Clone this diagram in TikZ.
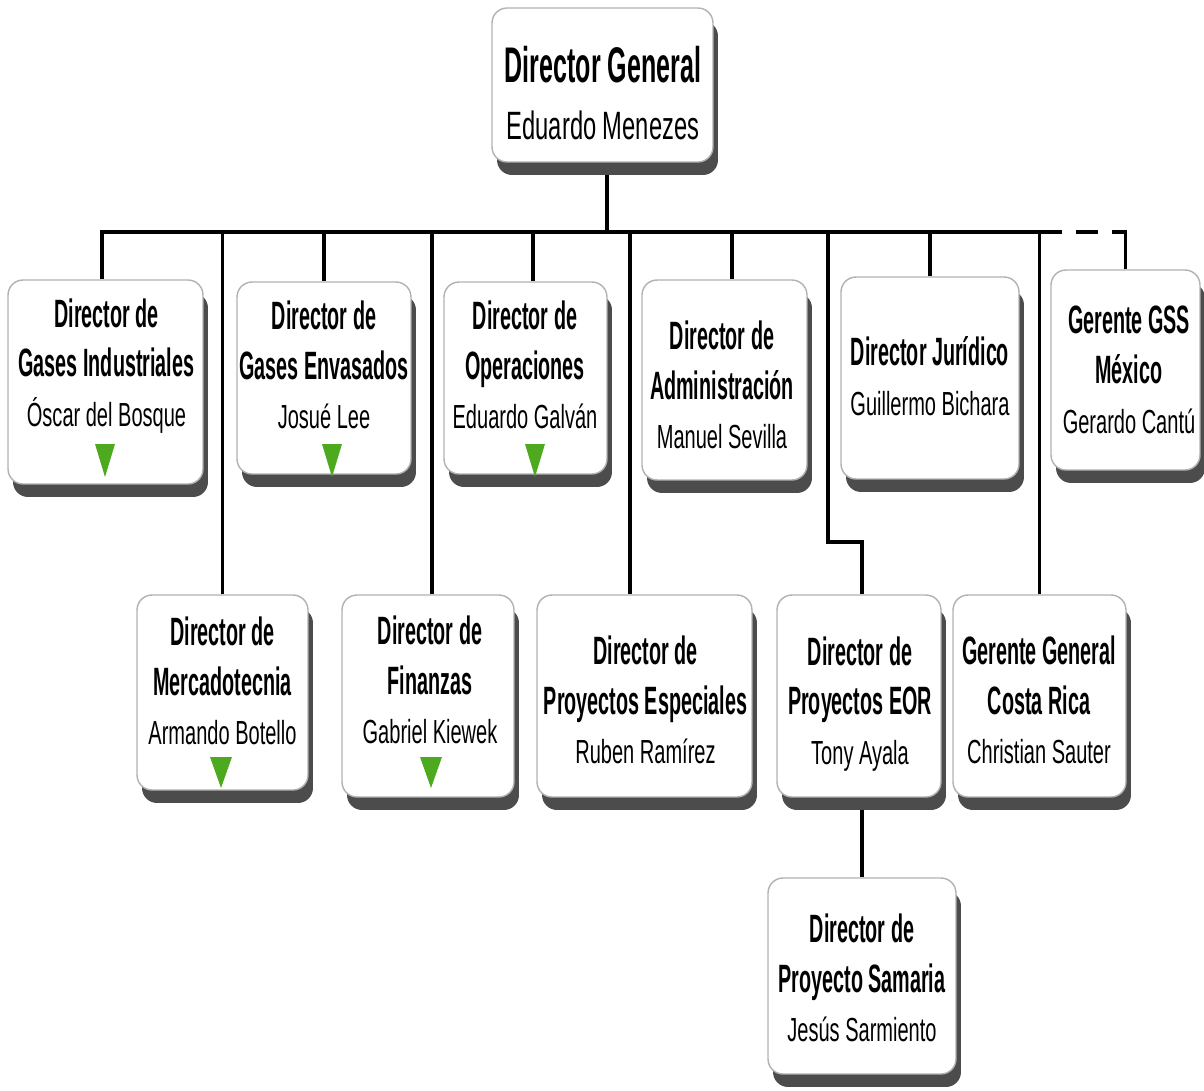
\documentclass[tikz,border=0pt]{standalone}
\usepackage{fontspec}
\setmainfont[FakeStretch=0.6]{Liberation Sans}
\newfontfamily\condbold[FakeStretch=0.5]{Liberation Sans}
\usetikzlibrary{shadows}
\pgfdeclarelayer{bg}
\pgfsetlayers{bg,main}
\definecolor{trigreen}{RGB}{77,170,30}
\newcommand\ttlb[1]{{\condbold\bfseries\fontsize{22.5}{28.3}\selectfont #1}}
\newcommand\topttl[1]{{\condbold\bfseries\fontsize{28.5}{32.9}\selectfont #1}}
\begin{document}
\begin{tikzpicture}[x=0.02cm,y=-0.02cm,
  box/.style={draw=gray!60, line width=0.8pt, fill=white, rounded corners=0.3cm, inner sep=0pt,
    drop shadow={shadow xshift=0.1cm, shadow yshift=-0.26cm, fill=black!70, opacity=1}},
  lbl/.style={align=center, inner sep=0pt, font=\fontsize{19}{28.3}\selectfont},
  conn/.style={line width=2pt, black},
  tri/.style={fill=trigreen}]
\useasboundingbox (0,0) rectangle (1204,1091);

% boxes
\node[box, minimum width=4.42cm, minimum height=3.08cm] (top) at (602.5,85) {};
\node[box, minimum width=3.9cm,  minimum height=4.08cm] (GI)  at (105.5,382) {};
\node[box, minimum width=3.48cm, minimum height=3.84cm] (GE)  at (324,378) {};
\node[box, minimum width=3.26cm, minimum height=3.84cm] (OP)  at (525.5,378) {};
\node[box, minimum width=3.3cm,  minimum height=4.0cm]  (AD)  at (724.5,380) {};
\node[box, minimum width=3.56cm, minimum height=4.04cm] (JU)  at (930,378) {};
\node[box, minimum width=2.98cm, minimum height=4.0cm]  (GSS) at (1125.5,370) {};
\node[box, minimum width=3.42cm, minimum height=3.9cm]  (MK)  at (222.5,692.5) {};
\node[box, minimum width=3.44cm, minimum height=4.04cm] (FI)  at (428,696) {};
\node[box, minimum width=4.3cm,  minimum height=4.04cm] (PE)  at (644.5,696) {};
\node[box, minimum width=3.28cm, minimum height=4.04cm] (EOR) at (859,696) {};
\node[box, minimum width=3.46cm, minimum height=4.04cm] (CR)  at (1039.5,696) {};
\node[box, minimum width=3.76cm, minimum height=3.92cm] (SA)  at (862,976) {};

% texts
\node[lbl, font=\fontsize{22.5}{32.9}\selectfont] (topt) at (603,93) {\topttl{Director General}\\ Eduardo Menezes};
\node[lbl] (GIt)  at (106.5,366) {\ttlb{Director de}\\ \ttlb{Gases Industriales}\\ Óscar del Bosque};
\node[lbl] (GEt)  at (324,365) {\ttlb{Director de}\\ \ttlb{Gases Envasados}\\ Josué Lee};
\node[lbl] (OPt)  at (525,365) {\ttlb{Director de}\\ \ttlb{Operaciones}\\ Eduardo Galván};
\node[lbl] (ADt)  at (722,385) {\ttlb{Director de}\\ \ttlb{Administración}\\ Manuel Sevilla};
\node[lbl] (JUt)  at (930,376) {\ttlb{Director Jurídico}\\ Guillermo Bichara};
\node[lbl] (GSSt) at (1129,370) {\ttlb{Gerente GSS}\\ \ttlb{México}\\ Gerardo Cantú};
\node[lbl] (MKt)  at (222.5,681) {\ttlb{Director de}\\ \ttlb{Mercadotecnia}\\ Armando Botello};
\node[lbl] (FIt)  at (430,680) {\ttlb{Director de}\\ \ttlb{Finanzas}\\ Gabriel Kiewek};
\node[lbl] (PEt)  at (645.5,700) {\ttlb{Director de}\\ \ttlb{Proyectos Especiales}\\ Ruben Ramírez};
\node[lbl] (EORt) at (860,704) {\ttlb{Director de}\\ \ttlb{Proyectos EOR}\\ Tony Ayala};
\node[lbl] (CRt)  at (1039,700) {\ttlb{Gerente General}\\ \ttlb{Costa Rica}\\ Christian Sauter};
\node[lbl] (SAt)  at (862,978) {\ttlb{Director de}\\ \ttlb{Proyecto Samaria}\\ Jesús Sarmiento};

% green triangles
\fill[tri] (95,444) -- (115,444) -- (105,477) -- cycle;
\fill[tri] (322,444) -- (342,444) -- (332,477) -- cycle;
\fill[tri] (525,444) -- (545,444) -- (535,477) -- cycle;
\fill[tri] (210,757) -- (232,757) -- (221,788) -- cycle;
\fill[tri] (420,757) -- (442,757) -- (431,788) -- cycle;

% connectors
\coordinate (bus) at (607,232);
\coordinate (busE) at (1062,232);
\coordinate (busD) at (1112,232);
\coordinate (eorJ) at (828,542);
\begin{pgfonlayer}{bg}
\draw[conn] (bus |- top.south) -- (bus);
\draw[conn] ([xshift=-0.07cm]GI.north) |- (busE);
\draw[conn, dash pattern=on 0.44cm off 0.28cm, dash phase=0.44cm] (busE) -- (busD);
\draw[conn] (busD) -| (GSS.north);
\draw[conn] (GE.north) |- (bus);
\draw[conn] ([xshift=0.15cm]OP.north) |- (bus);
\draw[conn] ([xshift=0.15cm]AD.north) |- (bus);
\draw[conn] (JU.north) |- (bus);
\draw[conn] (MK.north) |- (bus);
\draw[conn] ([xshift=0.08cm]FI.north) |- (bus);
\draw[conn] ([xshift=-0.29cm]PE.north) |- (bus);
\draw[conn] ([xshift=0.06cm]EOR.north) |- (eorJ) |- (bus);
\draw[conn] (CR.north) |- (bus);
\draw[conn] (SA.north) -- (SA.north |- EOR.south);
\end{pgfonlayer}
\end{tikzpicture}
\end{document}
